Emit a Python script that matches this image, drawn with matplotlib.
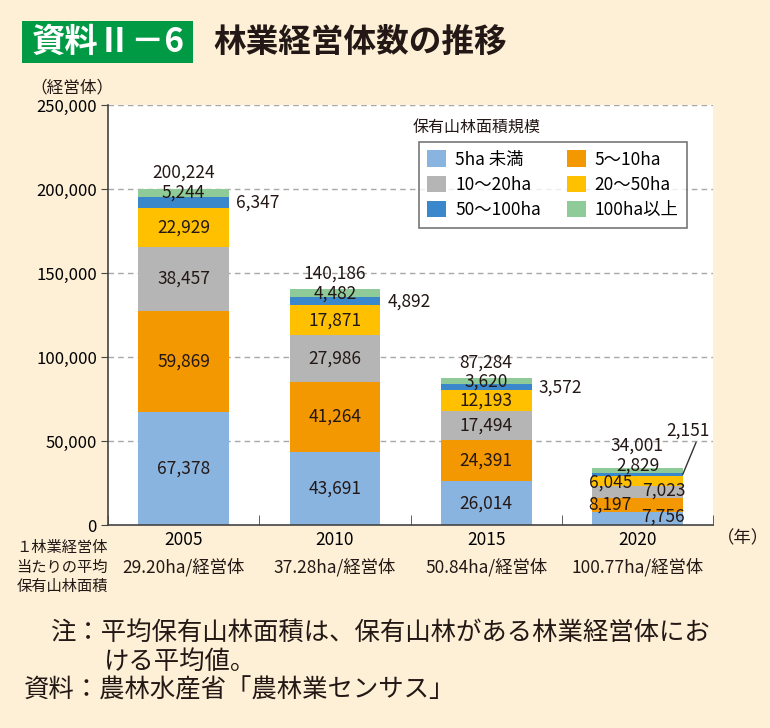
import matplotlib
matplotlib.use("Agg")
from matplotlib import pyplot as plt
from matplotlib.patches import Rectangle, Patch
import numpy as np

plt.rcParams["font.family"] = ["Noto Sans CJK JP", "DejaVu Sans"]

# data
years = ["2005", "2010", "2015", "2020"]
avg_area = ["29.20ha/経営体", "37.28ha/経営体", "50.84ha/経営体", "100.77ha/経営体"]
series_names = ["5ha 未満", "5～10ha", "10～20ha", "20～50ha", "50～100ha", "100ha以上"]
under5 = [67378, 43691, 26014, 7756]
s5_10 = [59869, 41264, 24391, 8197]
s10_20 = [38457, 27986, 17494, 7023]
s20_50 = [22929, 17871, 12193, 6045]
s50_100 = [6347, 4892, 3572, 2151]
over100 = [5244, 4482, 3620, 2829]
totals = [200224, 140186, 87284, 34001]
colors = ["#8ab4e0", "#f39800", "#b5b5b5", "#ffc000", "#3a87cc", "#8ecb98"]

bg = "#fdf0d6"
fig = plt.figure(figsize=(7.7, 7.28), dpi=100, facecolor=bg)
W, H = 770, 728


def fx(px):
    return px / W


def fy(py):
    return 1 - py / H


ax = fig.add_axes([fx(108), fy(525), fx(713) - fx(108), fy(105) - fy(525)])
ax.set_facecolor("white")

series = [under5, s5_10, s10_20, s20_50, s50_100, over100]
x = np.arange(len(years))
bottom = np.zeros(len(years))
bars = []
for vals, col in zip(series, colors):
    ax.bar(x, vals, width=0.6, bottom=bottom, color=col, zorder=2)
    bars.append((np.array(vals), bottom.copy()))
    bottom += np.array(vals)

ax.set_xlim(-0.5, 3.5)
ax.set_ylim(0, 250000)
ax.set_yticks(np.arange(0, 250001, 50000))
ax.set_yticklabels([f"{v:,}" for v in range(0, 250001, 50000)], fontsize=12)
for v in range(50000, 250001, 50000):
    ax.axhline(v, color="#a8a8a8", lw=1, ls=(0, (4, 3)), zorder=1)

ax.set_xticks(x)
ax.set_xticklabels(years, fontsize=12.5)
ax.set_xticks(np.arange(-0.5, 3.6, 1), minor=True)
ax.tick_params(axis="x", which="major", length=0, pad=4)
ax.tick_params(axis="x", which="minor", direction="in", length=7, color="#444444")
ax.tick_params(axis="y", length=5, color="#444444", pad=3)
for s in ["top", "right"]:
    ax.spines[s].set_visible(False)
for s in ["left", "bottom"]:
    ax.spines[s].set_color("#444444")
    ax.spines[s].set_linewidth(1.2)

fs = 12.5


def lab(i, k, text, dx=0, dy=0, ha="center"):
    vals, bot = bars[k]
    ycen = bot[i] + vals[i] / 2
    ax.annotate(text, (x[i], ycen), xytext=(dx, dy), textcoords="offset pixels",
                ha=ha, va="center", fontsize=fs, color="#231815", zorder=4)


# first three years: centered labels, 50-100 on the right, total on top
for i in range(3):
    for k in [0, 1, 2, 3, 5]:
        lab(i, k, f"{series[k][i]:,}")
    vals, bot = bars[4]
    ax.annotate(f"{s50_100[i]:,}", (x[i] + 0.3, bot[i] + vals[i] / 2), xytext=(7, 0),
                textcoords="offset pixels", ha="left", va="center", fontsize=fs,
                color="#231815")
    ax.annotate(f"{totals[i]:,}", (x[i], totals[i]), xytext=(0, 16),
                textcoords="offset pixels", ha="center", va="center", fontsize=fs,
                color="#231815", zorder=4)

# 2020: labels staggered
i = 3
lab(i, 0, f"{under5[i]:,}", dx=26, dy=2)
lab(i, 1, f"{s5_10[i]:,}", dx=-27, dy=0)
lab(i, 2, f"{s10_20[i]:,}", dx=26, dy=2)
lab(i, 3, f"{s20_50[i]:,}", dx=-27, dy=-1)
lab(i, 5, f"{over100[i]:,}", dx=1, dy=5)
ax.annotate(f"{totals[i]:,}", (x[i], totals[i]), xytext=(0, 22),
            textcoords="offset pixels", ha="center", va="center", fontsize=fs,
            color="#231815", zorder=4)
vals, bot = bars[4]
ax.annotate(f"{s50_100[i]:,}", (x[i] + 0.3, bot[i] + vals[i] / 2), xytext=(5, 44),
            textcoords="offset pixels", ha="center", va="center", fontsize=fs,
            color="#231815",
            arrowprops=dict(arrowstyle="-", color="#333333", lw=1,
                            relpos=(0.72, 0.0), shrinkA=0, shrinkB=0))

# legend
order = [0, 2, 4, 1, 3, 5]
handles = [Patch(facecolor=colors[k], edgecolor="none") for k in order]
labels = [series_names[k] for k in order]
leg = ax.legend(handles, labels, ncol=2, loc="upper left",
                bbox_to_anchor=((410 - 108) / 605, (525 - 133) / 420),
                frameon=True, fancybox=False, edgecolor="#555555", fontsize=12.5,
                handlelength=1.1, handleheight=1.1, handletextpad=0.5,
                columnspacing=1.5, labelspacing=0.4, borderpad=0.5)
leg.get_frame().set_linewidth(1.2)
leg.set_zorder(5)
fig.text(fx(413), fy(127), "保有山林面積規模", fontsize=11.5, ha="left", va="center",
         color="#231815")

# title
fig.patches.append(Rectangle((fx(22), fy(63)), fx(193) - fx(22), fy(21) - fy(63),
                             transform=fig.transFigure, facecolor="#009a44",
                             edgecolor="none"))
fig.text(fx(108), fy(42), "資料Ⅱ－6", fontsize=24, fontweight="bold", color="white",
         ha="center", va="center")
fig.text(fx(213), fy(42), "林業経営体数の推移", fontsize=23.5, fontweight="bold",
         color="#231815", ha="left", va="center")

fig.text(fx(30), fy(88), "（経営体）", fontsize=12, ha="left", va="center",
         color="#231815")
fig.text(fx(743), fy(538), "（年）", fontsize=12.5, ha="center", va="center",
         color="#231815")

# average area row
fig.text(fx(62), fy(567), "１林業経営体\n当たりの平均\n保有山林面積", fontsize=11,
         ha="center", va="center", linespacing=1.2, color="#231815")
for i, t in enumerate(avg_area):
    fig.text(fx(108 + 151.25 * (i + 0.5)), fy(567), t, fontsize=12.5,
             ha="center", va="center", color="#231815")

# notes
fig.text(fx(50), fy(633), "注：平均保有山林面積は、保有山林がある林業経営体にお",
         fontsize=18.3, ha="left", va="center", color="#231815")
fig.text(fx(104), fy(662), "ける平均値。", fontsize=18.3, ha="left", va="center",
         color="#231815")
fig.text(fx(24), fy(691), "資料：農林水産省「農林業センサス」", fontsize=18.3,
         ha="left", va="center", color="#231815")

fig.savefig("out.png", dpi=100, facecolor=bg)
